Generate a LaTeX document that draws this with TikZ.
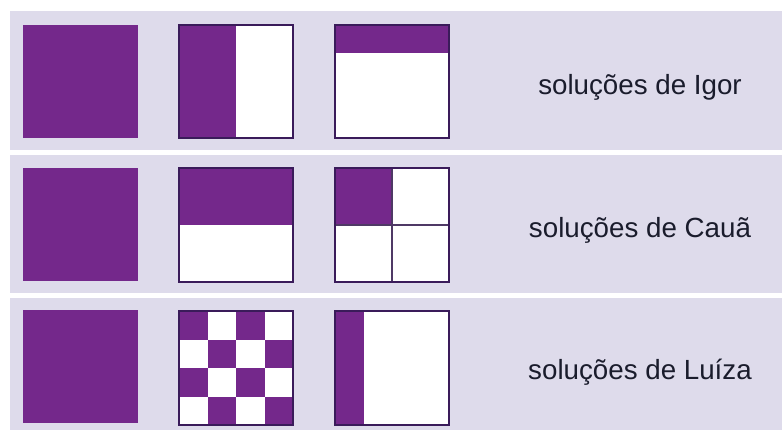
\documentclass[tikz,border=0pt]{standalone}
\usepackage{fontspec}
\setmainfont{Liberation Sans}
\usepackage{xcolor,tikz}
\usetikzlibrary{positioning}
\definecolor{FracPurple}{HTML}{74288B}
\definecolor{FracEdge}{HTML}{3A1B5A}
\definecolor{RowBack}{HTML}{DEDBEB}
\definecolor{LabelInk}{HTML}{1A1C2C}
\tikzset{whole/.style={fill=FracPurple},part/.style={fill=FracPurple},
 frame/.style={draw=FracEdge,line width=1pt},grid line/.style={draw=FracEdge!70!gray,line width=.9pt},
 rowtext/.style={font=\fontsize{20.8}{25}\selectfont,text=LabelInk}}
\begin{document}
\begin{tikzpicture}[x=.75pt,y=-.75pt]
\useasboundingbox (0,0) rectangle (782,433);
\fill[white] (0,0) rectangle (782,433);
\foreach \t/\b in {11/150,155/293,298/430}\fill[RowBack] (10,\t) rectangle (782,\b);
% first column: the whole
\foreach \t in {25,168,310}\fill[whole] (23,\t) rectangle ++(115,113);
% row 1
\fill[white] (179,25) rectangle (293,138);\fill[part] (179,25) rectangle (236,138);
\draw[frame] (179,25) rectangle (293,138);
\fill[white] (335,25) rectangle (449,138);\fill[part] (335,25) rectangle (449,53);
\draw[frame] (335,25) rectangle (449,138);
% row 2
\fill[white] (179,168) rectangle (293,282);\fill[part] (179,168) rectangle (293,225);
\draw[frame] (179,168) rectangle (293,282);
\fill[white] (335,168) rectangle (449,282);\fill[part] (335,168) rectangle (392,225);
\draw[grid line] (392,168)--(392,282);\draw[grid line] (335,225)--(449,225);
\draw[frame] (335,168) rectangle (449,282);
% row 3
\fill[white] (179,311) rectangle (293,425);
\foreach \i in {0,...,3}\foreach \j in {0,...,3}{
 \pgfmathtruncatemacro{\odd}{mod(\i+\j,2)}
 \ifnum\odd=0 \fill[part] (179+28.5*\i,311+28.5*\j) rectangle ++(28.5,28.5);\fi}
\draw[frame] (179,311) rectangle (293,425);
\fill[white] (335,311) rectangle (449,425);\fill[part] (335,311) rectangle (364,425);
\draw[frame] (335,311) rectangle (449,425);
\node[rowtext] (lbIgor) at (640,87) {soluções de Igor};
\node[rowtext] (lbCaua) at (640,230) {soluções de Cauã};
\node[rowtext] (lbLuiza) at (640,372) {soluções de Luíza};
\end{tikzpicture}
\end{document}
